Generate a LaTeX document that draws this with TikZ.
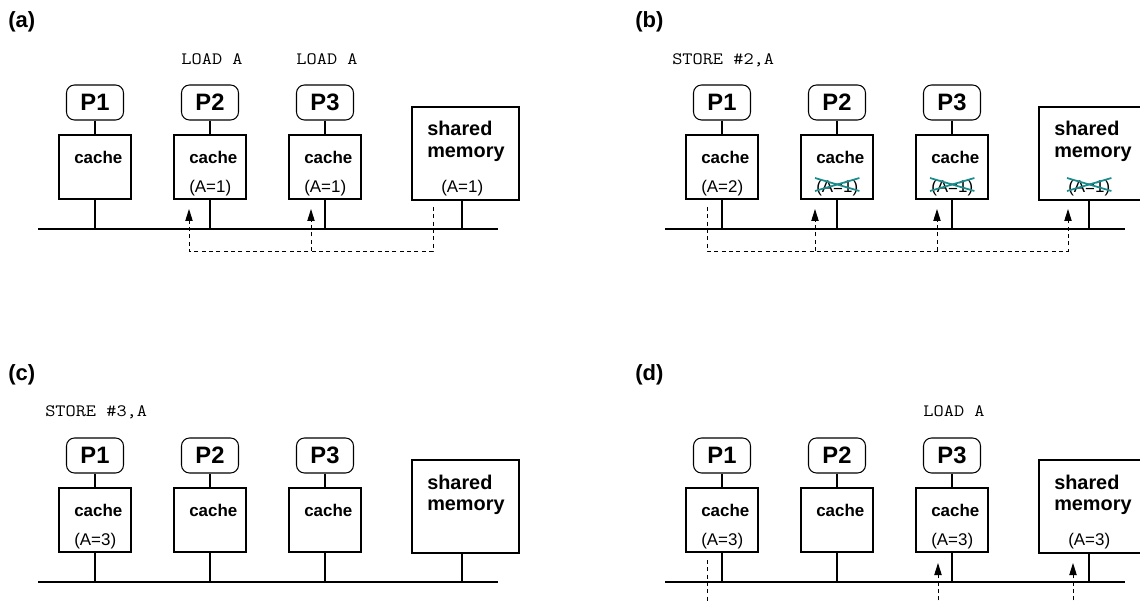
\documentclass[tikz,border=0pt]{standalone}
\usepackage{fontspec}
\setmainfont{Liberation Sans}
\newfontfamily\courfont{Latin Modern Mono}[FakeStretch=1.14]
\usetikzlibrary{arrows.meta,calc}
\definecolor{crossc}{RGB}{25,140,140}
\newcommand\Pfont{\fontsize{17.8pt}{20pt}\selectfont\bfseries}
\newcommand\Cfont{\fontsize{12.7pt}{15pt}\selectfont\bfseries}
\newcommand\Vfont{\fontsize{12.7pt}{15pt}\selectfont}
\newcommand\Mfont{\fontsize{14.9pt}{17pt}\selectfont\bfseries}
\newcommand\Lfont{\fontsize{16.5pt}{19pt}\selectfont\bfseries}
\newcommand\Tfont{\fontsize{13pt}{15pt}\selectfont\courfont}
\tikzset{
  pbox/.style={draw, line width=0.8pt, rounded corners=6pt, minimum width=42.75pt, minimum height=26.25pt, inner sep=0pt, font=\Pfont},
  cbox/.style={draw, line width=0.8pt, minimum width=54pt, minimum height=48pt, inner sep=0pt},
  mbox/.style={draw, line width=0.8pt, minimum width=80.25pt, minimum height=69.75pt, inner sep=0pt},
  ctext/.style={inner sep=0pt, anchor=base west, font=\Cfont},
  vtext/.style={inner sep=0pt, anchor=base west, font=\Vfont},
  mtext/.style={inner sep=0pt, anchor=base west, font=\Mfont},
  plabel/.style={inner sep=0pt, anchor=base west, font=\Lfont},
  cmd/.style={inner sep=0pt, anchor=base, font=\Tfont},
  wire/.style={line width=0.9pt},
  bus/.style={line width=1.4pt},
  dsh/.style={line width=0.7pt, dash pattern=on 3pt off 2.5pt},
  arr/.style={-{Triangle[length=9pt,width=5.5pt]}},
  crs/.style={draw=crossc, line width=1.3pt},
}
\newcommand\panel[3]{%
\begin{scope}[shift={(#2,#3)}]
  \coordinate (#1busL) at (38,229);
  \coordinate (#1busR) at (498,229);
  \coordinate (#1Mx) at (462,229);
  \draw[bus] (#1busL) -- (#1busR);
  \foreach \i/\x in {1/95,2/210,3/325}{
    \node[pbox] (#1P\i) at (\x,102.5) {P\i};
    \node[cbox] (#1C\i) at (\x,167) {};
    \node[ctext] (#1T\i) at (\x-21,164) {cache};
    \draw[wire] (#1P\i) -- (#1C\i);
    \draw[wire] (#1C\i) -- (#1C\i |- #1busL);
  }
  \node[mbox] (#1M) at (465.5,153.5) {};
  \node[mtext] (#1S1) at (427,136) {shared};
  \node[mtext] (#1S2) at (427,158) {memory};
  \draw[wire] (#1M.south -| #1Mx) -- (#1Mx);
\end{scope}}
\newcommand\crossout[1]{%
  \draw[crs] ($(#1.base west)+(-1,-15)$) -- ($(#1.base east)+(1,-2)$);
  \draw[crs] ($(#1.base west)+(-1,-2)$) -- ($(#1.base east)+(1,-15)$);
}
\begin{document}
\begin{tikzpicture}[x=0.75pt,y=-0.75pt]
\useasboundingbox (0,0) rectangle (1140,602);
\clip (0,0) rectangle (1140,602);
\panel{a}{0}{0}
\panel{b}{627}{0}
\panel{c}{0}{353}
\panel{d}{627}{353}
% panel (a)
\begin{scope}
  \node[plabel] (alab) at (8,28) {(a)};
  \node[cmd] (acmd2) at (212,65) {LOAD A};
  \node[cmd] (acmd3) at (327,65) {LOAD A};
  \node[vtext] (aV2) at (189,193) {(A=1)};
  \node[vtext] (aV3) at (304,193) {(A=1)};
  \node[vtext] (aVM) at (441,193) {(A=1)};
  \coordinate (asrc) at (433,207);
  \coordinate (abot) at (0,251);
  \coordinate (at2) at (189,209);
  \coordinate (at3) at (311,209);
  \draw[dsh,arr] (asrc) -- (asrc |- abot) -| (at2);
  \draw[dsh,arr] (at3 |- abot) -- (at3);
\end{scope}
% panel (b)
\begin{scope}[shift={(627,0)}]
  \node[plabel] (blab) at (8,28) {(b)};
  \node[cmd, anchor=base west] (bcmd) at (45,65) {STORE \#2,A};
  \node[vtext] (bV1) at (74,193) {(A=2)};
  \node[vtext] (bV2) at (189,193) {(A=1)};
  \node[vtext] (bV3) at (304,193) {(A=1)};
  \node[vtext] (bVM) at (441,193) {(A=1)};
  \crossout{bV2}
  \crossout{bV3}
  \crossout{bVM}
  \coordinate (bsrc) at (80,207);
  \coordinate (bbot) at (0,251);
  \coordinate (bt2) at (188,209);
  \coordinate (bt3) at (310,209);
  \coordinate (btM) at (441,209);
  \draw[dsh,arr] (bsrc) -- (bsrc |- bbot) -| (btM);
  \draw[dsh,arr] (bt2 |- bbot) -- (bt2);
  \draw[dsh,arr] (bt3 |- bbot) -- (bt3);
\end{scope}
% panel (c)
\begin{scope}[shift={(0,353)}]
  \node[plabel] (clab) at (8,28) {(c)};
  \node[cmd, anchor=base west] (ccmd) at (45,64) {STORE \#3,A};
  \node[vtext] (cV1) at (74,193) {(A=3)};
\end{scope}
% panel (d)
\begin{scope}[shift={(627,353)}]
  \node[plabel] (dlab) at (8,28) {(d)};
  \node[cmd] (dcmd) at (327,64) {LOAD A};
  \node[vtext] (dV1) at (74,193) {(A=3)};
  \node[vtext] (dV3) at (304,193) {(A=3)};
  \node[vtext] (dVM) at (441,193) {(A=3)};
  \coordinate (dsrc) at (80,207);
  \coordinate (dend) at (80,262);
  \coordinate (dt3) at (311,210);
  \coordinate (dtM) at (446,210);
  \coordinate (dbot) at (0,262);
  \draw[dsh] (dsrc) -- (dend);
  \draw[dsh,arr] (dt3 |- dbot) -- (dt3);
  \draw[dsh,arr] (dtM |- dbot) -- (dtM);
\end{scope}
\end{tikzpicture}
\end{document}
